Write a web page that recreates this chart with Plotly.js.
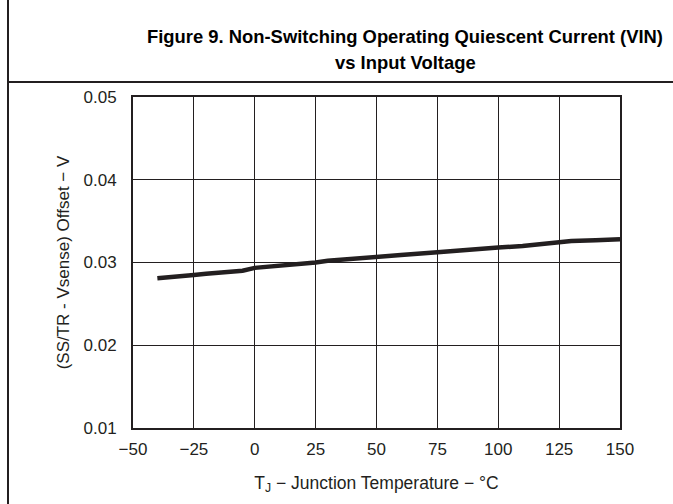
<!DOCTYPE html>
<html>
<head>
<meta charset="utf-8">
<script src="https://cdn.plot.ly/plotly-3.0.1.min.js"></script>
<style>
  html, body { margin: 0; padding: 0; background: #fff; }
  #wrap { position: relative; width: 673px; height: 504px; }
  #chart { position: absolute; left: 0; top: 0; width: 673px; height: 504px; }
  .frameV { position: absolute; left: 7px; top: 0; width: 2px; height: 504px; background: #231f20; }
  .frameH { position: absolute; left: 7px; top: 81px; width: 666px; height: 2px; background: #231f20; }
</style>
</head>
<body>
<div id="wrap">
  <div id="chart"></div>
  <div class="frameV"></div>
  <div class="frameH"></div>
</div>
<script>
// Junction temperature (°C)
const temperature = [-40, -30, -25, -20, -10, -5, 0, 10, 20, 25, 30, 40, 50, 60, 75, 90, 100, 110, 120, 125, 130, 140, 150];
// (SS/TR - Vsense) offset (V)
const offset = [0.0281, 0.02845, 0.0285, 0.02865, 0.0289, 0.0290, 0.02935, 0.0296, 0.0298, 0.0300, 0.0302, 0.0304, 0.0307, 0.0309, 0.03125, 0.0315, 0.0318, 0.0320, 0.0323, 0.03243, 0.0326, 0.0327, 0.0328];

const xTicks = [-50, -25, 0, 25, 50, 75, 100, 125, 150];
const xTickLabels = ['\u221250', '\u221225', '0', '25', '50', '75', '100', '125', '150'];
const yTicks = [0.01, 0.02, 0.03, 0.04, 0.05];
const yTickLabels = ['0.01', '0.02', '0.03', '0.04', '0.05'];
const titleLines = ['Figure 9. Non-Switching Operating Quiescent Current (VIN)', 'vs Input Voltage'];

const ink = '#231f20';
const fontFam = 'Liberation Sans, Arial, sans-serif';

const trace = {
  x: temperature,
  y: offset,
  type: 'scatter',
  mode: 'lines',
  line: { color: ink, width: 4.5 },
  hoverinfo: 'skip'
};

const titleFont = { family: fontFam, size: 18.4, color: '#000', weight: 'bold' };

const layout = {
  width: 673,
  height: 504,
  margin: { l: 133, r: 53, t: 97, b: 76 },
  paper_bgcolor: '#ffffff',
  plot_bgcolor: '#ffffff',
  showlegend: false,
  font: { family: fontFam, color: ink, size: 17 },
  annotations: [
    { text: titleLines[0], font: titleFont, showarrow: false,
      xref: 'paper', x: (405 - 133) / 487, xanchor: 'center',
      yref: 'paper', y: (428 - 37) / 331, yanchor: 'middle' },
    { text: titleLines[1], font: titleFont, showarrow: false,
      xref: 'paper', x: (405 - 133) / 487, xanchor: 'center',
      yref: 'paper', y: (428 - 62) / 331, yanchor: 'middle' }
  ],
  xaxis: {
    range: [-50, 150],
    tickvals: xTicks,
    ticktext: xTickLabels,
    showgrid: true,
    gridcolor: ink,
    gridwidth: 1,
    zeroline: false,
    showline: true,
    linecolor: ink,
    linewidth: 2,
    mirror: true,
    ticks: '',
    ticklabelstandoff: 5,
    tickfont: { family: fontFam, size: 17, color: ink },
    title: {
      text: 'T<sub>J</sub> \u2212 Junction Temperature \u2212 \u00b0C',
      font: { family: fontFam, size: 17.5, color: ink },
      standoff: 18
    }
  },
  yaxis: {
    range: [0.01, 0.05],
    tickvals: yTicks,
    ticktext: yTickLabels,
    showgrid: true,
    gridcolor: ink,
    gridwidth: 1,
    zeroline: false,
    showline: true,
    linecolor: ink,
    linewidth: 2,
    mirror: true,
    ticks: '',
    ticklabelstandoff: 11,
    tickfont: { family: fontFam, size: 17, color: ink },
    title: {
      text: '(SS/TR - Vsense) Offset \u2212 V',
      font: { family: fontFam, size: 17, color: ink },
      standoff: 10
    }
  }
};

Plotly.newPlot('chart', [trace], layout, { displayModeBar: false, staticPlot: true });
</script>
</body>
</html>
